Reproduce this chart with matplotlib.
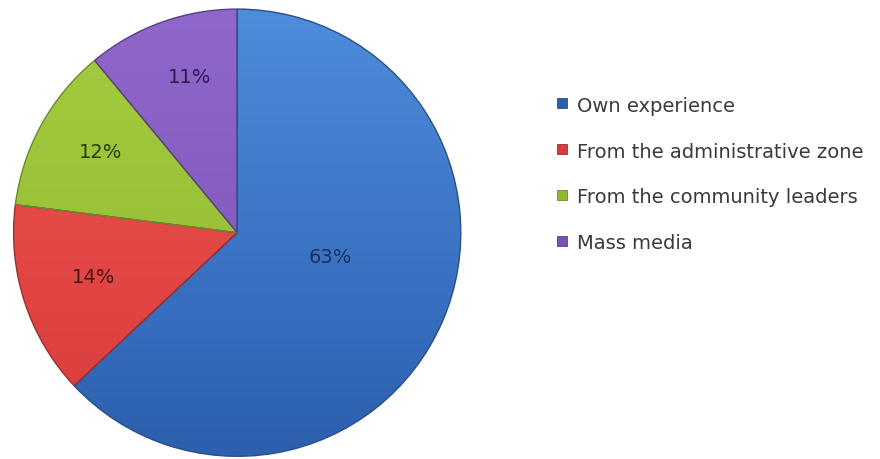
import numpy as np
import matplotlib.pyplot as plt
from matplotlib.patches import Wedge, Rectangle
from matplotlib.colors import LinearSegmentedColormap

labels = ["Own experience", "From the administrative zone",
          "From the community leaders", "Mass media"]
shares = [63, 14, 12, 11]

top_colors = ["#4d8ddc", "#ee5550", "#a4cc40", "#9068cc"]
bottom_colors = ["#2c5fae", "#d83c3c", "#90b830", "#7a52b4"]
edge_colors = ["#2a4f88", "#9a3030", "#6d8a2a", "#5a3d85"]
text_colors = ["#1a2f5c", "#4a1414", "#283a0c", "#2e1a50"]
# label placement inside each slice: radius fraction and angle nudge (deg)
label_r = [0.43, 0.67, 0.71, 0.73]
label_nudge = [9, -1, -2, -3]

plt.rcParams['font.family'] = ['DejaVu Sans']

W, H = 880, 460
fig = plt.figure(figsize=(W / 100, H / 100), dpi=100)
cx, cy, R = 237.2, 233.7, 224.5
ax = fig.add_axes([(cx - R) / W, (H - cy - R) / H, 2 * R / W, 2 * R / H])
ax.set_xlim(-1.004, 1.004)
ax.set_ylim(-1.004, 1.004)
ax.set_aspect("equal")
ax.axis("off")

# slices run clockwise from twelve o'clock
total = float(sum(shares))
start = 90.0
grad = np.linspace(1, 0, 256).reshape(-1, 1) * np.ones((1, 4))
for i, v in enumerate(shares):
    sweep = 360.0 * v / total
    theta1, theta2 = start - sweep, start
    w = Wedge((0, 0), 1.0, theta1, theta2, facecolor="none",
              edgecolor=edge_colors[i], linewidth=1.0, zorder=3)
    ax.add_patch(w)
    cmap = LinearSegmentedColormap.from_list("g%d" % i, [bottom_colors[i], top_colors[i]])
    im = ax.imshow(grad, cmap=cmap, extent=(-1, 1, -1, 1), origin="upper",
                   aspect="auto", zorder=2, interpolation="bilinear")
    im.set_clip_path(w)
    mid = np.deg2rad((theta1 + theta2) / 2 + label_nudge[i])
    ax.text(label_r[i] * np.cos(mid), label_r[i] * np.sin(mid), "%d%%" % v,
            ha="center", va="center", fontsize=14, color=text_colors[i], zorder=4)
    start = theta1

# legend: small gradient squares with labels
for i, lab in enumerate(labels):
    y = 104 + 46 * i
    sq = Rectangle((557 / W, (H - y - 5) / H), 10 / W, 10 / H, transform=fig.transFigure,
                   facecolor=bottom_colors[i], edgecolor=edge_colors[i], linewidth=0.6)
    fig.add_artist(sq)
    fig.text(577 / W, (H - y) / H, lab, ha="left", va="center_baseline",
             fontsize=14, color="#3a3a3a")

fig.savefig("out.png", dpi=100, facecolor="white")
